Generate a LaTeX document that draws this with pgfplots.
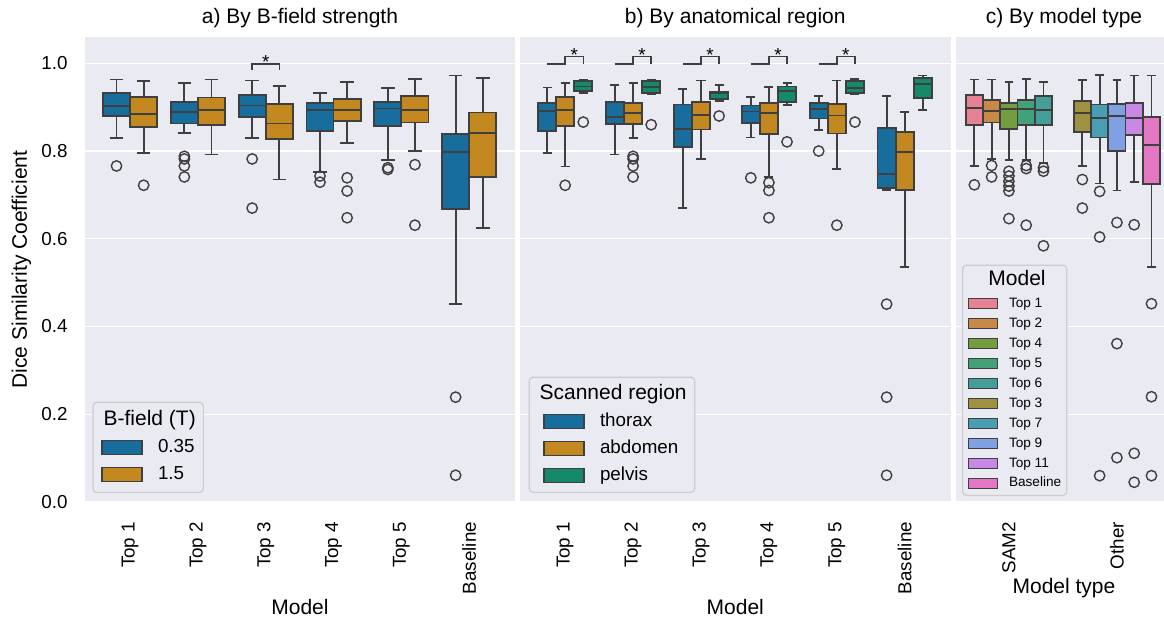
\documentclass[border=0pt]{standalone}
\usepackage{pgfplots}
\pgfplotsset{compat=1.18}
\usepgfplotslibrary{statistics}
\usepackage{fontspec}
\setmainfont{Liberation Sans}
\definecolor{bgc}{HTML}{EAEAF2}
\definecolor{edge}{HTML}{3F3F3F}
\definecolor{lgc}{HTML}{CCCCCC}
\definecolor{cb}{HTML}{176D9C}
\definecolor{co}{HTML}{C38820}
\definecolor{cg}{HTML}{158A6A}
\definecolor{hA}{HTML}{E68294}
\definecolor{hB}{HTML}{C78947}
\definecolor{hD}{HTML}{759C40}
\definecolor{hE}{HTML}{43A078}
\definecolor{hF}{HTML}{459E97}
\definecolor{hC}{HTML}{9E9241}
\definecolor{hG}{HTML}{4A9EB3}
\definecolor{hI}{HTML}{7FA1E3}
\definecolor{hK}{HTML}{C789E5}
\definecolor{hL}{HTML}{E377C4}
\newcommand{\tickfont}{\fontsize{9.4}{11}\selectfont}
\newcommand{\labfont}{\fontsize{10.5}{12}\selectfont}
% #1 position, #2 box width, #3 colour, #4..#8 whisker/quartiles/median, #9 outliers
\newcommand{\BP}[9]{%
\addplot[forget plot, draw=edge, line width=0.9pt, fill=#3, mark=o, mark size=2.6pt,
  mark options={draw=edge, fill=none, line width=0.7pt, solid},
  boxplot/draw direction=y,
  boxplot prepared={draw position=#1, box extend=#2, whisker extend=#2*0.5,
  lower whisker=#4, lower quartile=#5, median=#6, upper quartile=#7, upper whisker=#8}]
  table[row sep=\\, y index=0] {v\\ #9};}
\newcommand{\LI}[1]{\addlegendimage{legend image code/.code={\draw[sharp corners, fill=#1, draw=edge, line width=0.7pt] (0pt,-3.5pt) rectangle (20pt,3.5pt); \path (27.7pt,0pt);}}}
\newcommand{\LIc}[1]{\addlegendimage{legend image code/.code={\draw[sharp corners, fill=#1, draw=edge, line width=0.6pt] (0pt,-2.5pt) rectangle (14.5pt,2.5pt); \path (19.8pt,0pt);}}}
% significance bracket in panel b: #1 thorax, #2 abdomen, #3 pelvis position, #4 star position
\newcommand{\SIG}[4]{%
  \draw[edge, line width=0.75pt] (axis cs:#1,0.999) -- (axis cs:#2,0.999) -- (axis cs:#2,1.0155) -- (axis cs:#3,1.0155) -- (axis cs:#3,0.999);
  \node[font=\tickfont, anchor=base, inner sep=0pt] at (axis cs:#4,1.003) {*};}
\tikzset{leg/.style={fill=bgc, draw=lgc, line width=0.6pt, rounded corners=2pt,
    font=\tickfont, nodes={inner sep=0pt, text height=7pt, text depth=2pt}}}
\pgfplotsset{
  pan/.style={scale only axis, height=232.5pt, ymin=0, ymax=1.06,
    anchor=south west,
    axis background/.style={fill=bgc},
    axis line style={draw=none}, major tick length=0pt, tick style={draw=none},
    ymajorgrids, grid style={white, line width=0.7pt},
    ytick={0,0.2,0.4,0.6,0.8,1.0},
    tick label style={font=\tickfont},
    xticklabel style={rotate=90, anchor=east, inner ysep=0pt, inner xsep=9.8pt},
    yticklabel style={anchor=east, inner ysep=0pt, inner xsep=8.5pt},
    title style={at={(axis description cs:0.5,1)}, anchor=base, yshift=0.7pt, font=\labfont},
    xlabel style={at={(axis description cs:0.5,0)}, anchor=base, yshift=-56.15pt, font=\labfont},
    ylabel style={font=\labfont},
    legend cell align=left,
  },
}
\begin{document}
\begin{tikzpicture}
\useasboundingbox (0,0) rectangle (582pt,310.5pt);
% ---------------- panel a
\begin{axis}[pan, at={(42.5pt,59.5pt)}, width=215pt,
  xmin=-0.665, xmax=5.675, xtick={0,1,2,3,4,5},
  xticklabels={Top 1,Top 2,Top 3,Top 4,Top 5,Baseline},
  yticklabels={0.0,0.2,0.4,0.6,0.8,1.0},
  title={a) By B-field strength}, xlabel={Model},
  ylabel={Dice Similarity Coefficient},
  ylabel style={at={(axis description cs:-0.1477,0.5)}, anchor=center},
  legend style={leg, at={(0.017,0.0194)}, anchor=south west, inner xsep=4.2pt, inner ysep=4.3pt, row sep=4.5pt}]
\BP{-0.2}{0.4}{cb}{0.830}{0.880}{0.903}{0.932}{0.963}{0.766\\}
\BP{0.2}{0.4}{co}{0.796}{0.855}{0.884}{0.923}{0.960}{0.722\\}
\BP{0.8}{0.4}{cb}{0.842}{0.863}{0.889}{0.911}{0.956}{0.788\\ 0.782\\ 0.766\\ 0.741\\}
\BP{1.2}{0.4}{co}{0.792}{0.860}{0.893}{0.922}{0.963}{}
\BP{1.8}{0.4}{cb}{0.830}{0.877}{0.904}{0.928}{0.961}{0.782\\ 0.670\\}
\BP{2.2}{0.4}{co}{0.735}{0.827}{0.863}{0.908}{0.948}{}
\BP{2.8}{0.4}{cb}{0.753}{0.846}{0.894}{0.909}{0.932}{0.743\\ 0.729\\}
\BP{3.2}{0.4}{co}{0.818}{0.868}{0.893}{0.919}{0.957}{0.739\\ 0.709\\ 0.648\\}
\BP{3.8}{0.4}{cb}{0.779}{0.858}{0.897}{0.912}{0.944}{0.762\\ 0.758\\}
\BP{4.2}{0.4}{co}{0.800}{0.865}{0.894}{0.925}{0.965}{0.769\\ 0.631\\}
\BP{4.8}{0.4}{cb}{0.451}{0.667}{0.798}{0.839}{0.972}{0.239\\ 0.061\\}
\BP{5.2}{0.4}{co}{0.625}{0.741}{0.842}{0.888}{0.967}{}
\draw[edge, line width=0.75pt] (axis cs:1.8,0.984) -- (axis cs:1.8,0.999) -- (axis cs:2.2,0.999) -- (axis cs:2.2,0.984);
\node[font=\tickfont, anchor=base, inner sep=0pt] at (axis cs:2,0.988) {*};
\addlegendimage{empty legend}
\addlegendentry[font=\labfont, text height=7.5pt, text depth=2pt]{\hspace*{-27.2pt}B-field (T)\hspace*{-0.4pt}}
\LI{cb}\addlegendentry{0.35}
\LI{co}\addlegendentry{1.5}
\end{axis}
% ---------------- panel b
\begin{axis}[pan, at={(260pt,59.5pt)}, width=215.3pt,
  xmin=-0.665, xmax=5.675, xtick={0,1,2,3,4,5},
  xticklabels={Top 1,Top 2,Top 3,Top 4,Top 5,Baseline},
  yticklabels={},
  title={b) By anatomical region}, xlabel={Model},
  legend style={leg, at={(0.0202,0.0194)}, anchor=south west, inner xsep=7pt, inner ysep=3.8pt, row sep=4.5pt}]
\BP{-0.2667}{0.2667}{cb}{0.796}{0.846}{0.891}{0.910}{0.945}{}
\BP{0}{0.2667}{co}{0.765}{0.858}{0.894}{0.924}{0.955}{0.722\\}
\BP{0.2667}{0.2667}{cg}{0.933}{0.937}{0.947}{0.959}{0.963}{0.866\\}
\BP{0.7333}{0.2667}{cb}{0.792}{0.862}{0.877}{0.912}{0.950}{}
\BP{1}{0.2667}{co}{0.829}{0.862}{0.886}{0.909}{0.956}{0.788\\ 0.782\\ 0.766\\ 0.741\\}
\BP{1.2667}{0.2667}{cg}{0.929}{0.932}{0.946}{0.959}{0.963}{0.860\\}
\BP{1.7333}{0.2667}{cb}{0.670}{0.810}{0.850}{0.906}{0.941}{}
\BP{2}{0.2667}{co}{0.782}{0.849}{0.882}{0.912}{0.961}{}
\BP{2.2667}{0.2667}{cg}{0.914}{0.918}{0.931}{0.935}{0.951}{0.880\\}
\BP{2.7333}{0.2667}{cb}{0.831}{0.864}{0.890}{0.904}{0.924}{0.739\\}
\BP{3}{0.2667}{co}{0.741}{0.839}{0.887}{0.909}{0.946}{0.728\\ 0.710\\ 0.648\\}
\BP{3.2667}{0.2667}{cg}{0.905}{0.912}{0.937}{0.947}{0.956}{0.821\\}
\BP{3.7333}{0.2667}{cb}{0.848}{0.874}{0.896}{0.909}{0.926}{0.800\\}
\BP{4}{0.2667}{co}{0.759}{0.840}{0.881}{0.908}{0.961}{0.631\\}
\BP{4.2667}{0.2667}{cg}{0.929}{0.932}{0.944}{0.959}{0.965}{0.866\\}
\BP{4.7333}{0.2667}{cb}{0.711}{0.715}{0.747}{0.852}{0.925}{0.451\\ 0.239\\ 0.061\\}
\BP{5}{0.2667}{co}{0.535}{0.711}{0.798}{0.843}{0.889}{}
\BP{5.2667}{0.2667}{cg}{0.894}{0.921}{0.952}{0.967}{0.972}{}
\SIG{-0.2667}{0}{0.2667}{0.1333}
\SIG{0.7333}{1}{1.2667}{1.1333}
\SIG{1.7333}{2}{2.2667}{2.1333}
\SIG{2.7333}{3}{3.2667}{3.1333}
\SIG{3.7333}{4}{4.2667}{4.1333}
\addlegendimage{empty legend}
\addlegendentry[font=\labfont, text height=7.5pt, text depth=2pt]{\hspace*{-30.2pt}Scanned region\hspace*{-3pt}}
\LI{cb}\addlegendentry{thorax}
\LI{co}\addlegendentry{abdomen}
\LI{cg}\addlegendentry{pelvis}
\end{axis}
% ---------------- panel c
\begin{axis}[pan, at={(478pt,59.5pt)}, width=108pt,
  xmin=-0.49, xmax=1.51, xtick={0,1},
  xticklabels={SAM2,Other},
  yticklabels={},
  title={c) By model type}, xlabel={Model type},
  xlabel style={yshift=10.45pt},
  legend style={leg, at={(0.0278,0.0129)}, anchor=south west, inner xsep=2.8pt, inner ysep=2.8pt, row sep=3.6pt,
    font=\fontsize{6.8}{8}\selectfont, nodes={inner sep=0pt, text height=5pt, text depth=1.4pt}}]
\BP{-0.32}{0.16}{hA}{0.766}{0.859}{0.899}{0.928}{0.963}{0.723\\}
\BP{-0.16}{0.16}{hB}{0.781}{0.865}{0.892}{0.917}{0.963}{0.767\\ 0.741\\}
\BP{0}{0.16}{hD}{0.779}{0.851}{0.895}{0.909}{0.957}{0.754\\ 0.743\\ 0.731\\ 0.720\\ 0.709\\ 0.646\\}
\BP{0.16}{0.16}{hE}{0.779}{0.859}{0.896}{0.917}{0.965}{0.767\\ 0.760\\ 0.631\\}
\BP{0.32}{0.16}{hF}{0.772}{0.859}{0.893}{0.925}{0.957}{0.762\\ 0.754\\ 0.584\\}
\BP{0.68}{0.16}{hC}{0.766}{0.844}{0.887}{0.914}{0.962}{0.735\\ 0.670\\}
\BP{0.84}{0.16}{hG}{0.726}{0.831}{0.875}{0.906}{0.973}{0.708\\ 0.604\\ 0.060\\}
\BP{1.0}{0.16}{hI}{0.710}{0.800}{0.879}{0.908}{0.962}{0.637\\ 0.361\\ 0.101\\}
\BP{1.16}{0.16}{hK}{0.729}{0.837}{0.876}{0.910}{0.972}{0.632\\ 0.111\\ 0.045\\}
\BP{1.32}{0.16}{hL}{0.536}{0.724}{0.813}{0.877}{0.972}{0.452\\ 0.240\\ 0.060\\}
\addlegendimage{empty legend}
\addlegendentry[font=\labfont, text height=7.5pt, text depth=2pt]{\hspace*{-10.3pt}Model}
\LIc{hA}\addlegendentry{Top 1}
\LIc{hB}\addlegendentry{Top 2}
\LIc{hD}\addlegendentry{Top 4}
\LIc{hE}\addlegendentry{Top 5}
\LIc{hF}\addlegendentry{Top 6}
\LIc{hC}\addlegendentry{Top 3}
\LIc{hG}\addlegendentry{Top 7}
\LIc{hI}\addlegendentry{Top 9}
\LIc{hK}\addlegendentry{Top 11}
\LIc{hL}\addlegendentry{Baseline}
\end{axis}
\end{tikzpicture}
\end{document}
